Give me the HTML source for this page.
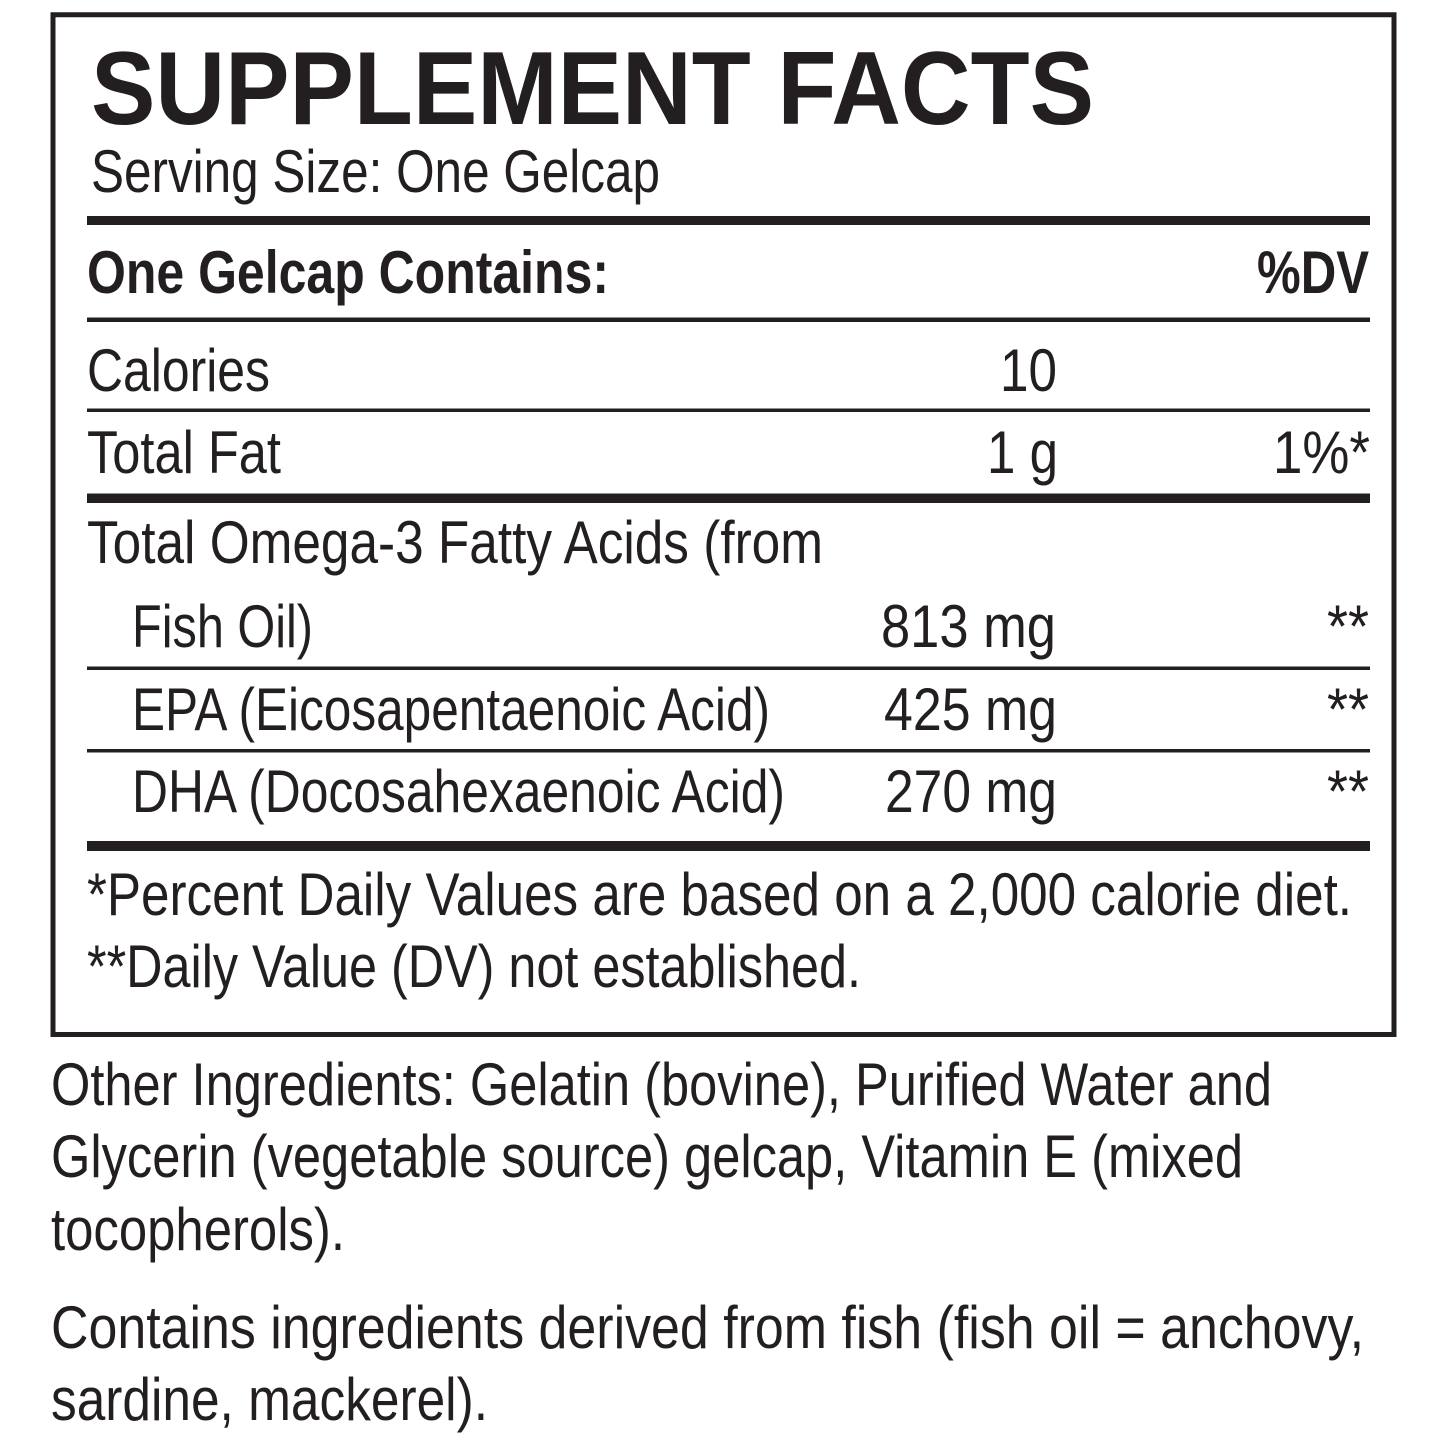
<!DOCTYPE html>
<html>
<head>
<meta charset="utf-8">
<style>
html,body{margin:0;padding:0;background:#fff;}
svg{display:block;}
text{fill:#231f20;font-family:"Liberation Sans",Arial,sans-serif;}
.t{font-size:60px;}
.b{font-size:60px;font-weight:bold;}
.h{font-size:104px;font-weight:bold;}
</style>
</head>
<body>
<svg width="1445" height="1445" viewBox="0 0 1445 1445" xmlns="http://www.w3.org/2000/svg">
<rect x="0" y="0" width="1445" height="1445" fill="#fff"/>
<rect x="53" y="14.75" width="1341" height="1019.75" fill="none" stroke="#231f20" stroke-width="5"/>

<g fill="#231f20">
<rect x="87" y="216" width="1283" height="9"/>
<rect x="87" y="317.5" width="1283" height="4.5"/>
<rect x="87" y="408.5" width="1283" height="3.5"/>
<rect x="87" y="493.5" width="1283" height="9.5"/>
<rect x="87" y="666.5" width="1283" height="3.5"/>
<rect x="87" y="749" width="1283" height="3.5"/>
<rect x="87" y="841" width="1283" height="10"/>
</g>

<text class="h" x="91" y="124" textLength="1003" lengthAdjust="spacingAndGlyphs">SUPPLEMENT FACTS</text>
<text class="t" x="91" y="192" textLength="569" lengthAdjust="spacingAndGlyphs">Serving Size: One Gelcap</text>

<text class="b" x="87" y="293" textLength="522" lengthAdjust="spacingAndGlyphs">One Gelcap Contains:</text>
<text class="b" x="1257" y="293" textLength="112" lengthAdjust="spacingAndGlyphs">%DV</text>

<text class="t" x="87" y="391" textLength="183" lengthAdjust="spacingAndGlyphs">Calories</text>
<text class="t" x="1000" y="391" textLength="57" lengthAdjust="spacingAndGlyphs">10</text>

<text class="t" x="87" y="473" textLength="194" lengthAdjust="spacingAndGlyphs">Total Fat</text>
<text class="t" x="987" y="473" textLength="71" lengthAdjust="spacingAndGlyphs">1 g</text>
<text class="t" x="1273" y="473" textLength="97" lengthAdjust="spacingAndGlyphs">1%*</text>

<text class="t" x="87" y="563" textLength="736" lengthAdjust="spacingAndGlyphs">Total Omega-3 Fatty Acids (from</text>
<text class="t" x="132" y="647" textLength="181" lengthAdjust="spacingAndGlyphs">Fish Oil)</text>
<text class="t" x="881" y="647" textLength="175" lengthAdjust="spacingAndGlyphs">813 mg</text>
<text class="t" x="1327" y="647" textLength="42" lengthAdjust="spacingAndGlyphs">**</text>

<text class="t" x="132" y="730" textLength="638" lengthAdjust="spacingAndGlyphs">EPA (Eicosapentaenoic Acid)</text>
<text class="t" x="884" y="730" textLength="173" lengthAdjust="spacingAndGlyphs">425 mg</text>
<text class="t" x="1327" y="730" textLength="42" lengthAdjust="spacingAndGlyphs">**</text>

<text class="t" x="132" y="812" textLength="653" lengthAdjust="spacingAndGlyphs">DHA (Docosahexaenoic Acid)</text>
<text class="t" x="885" y="812" textLength="172" lengthAdjust="spacingAndGlyphs">270 mg</text>
<text class="t" x="1327" y="812" textLength="42" lengthAdjust="spacingAndGlyphs">**</text>

<text class="t" x="87" y="915" textLength="1265" lengthAdjust="spacingAndGlyphs">*Percent Daily Values are based on a 2,000 calorie diet.</text>
<text class="t" x="87" y="987" textLength="774" lengthAdjust="spacingAndGlyphs">**Daily Value (DV) not established.</text>

<text class="t" x="51" y="1105" textLength="1221" lengthAdjust="spacingAndGlyphs">Other Ingredients: Gelatin (bovine), Purified Water and</text>
<text class="t" x="51" y="1177" textLength="1192" lengthAdjust="spacingAndGlyphs">Glycerin (vegetable source) gelcap, Vitamin E (mixed</text>
<text class="t" x="51" y="1250" textLength="294" lengthAdjust="spacingAndGlyphs">tocopherols).</text>
<text class="t" x="51" y="1348" textLength="1313" lengthAdjust="spacingAndGlyphs">Contains ingredients derived from fish (fish oil = anchovy,</text>
<text class="t" x="51" y="1420" textLength="437" lengthAdjust="spacingAndGlyphs">sardine, mackerel).</text>
</svg>
</body>
</html>
